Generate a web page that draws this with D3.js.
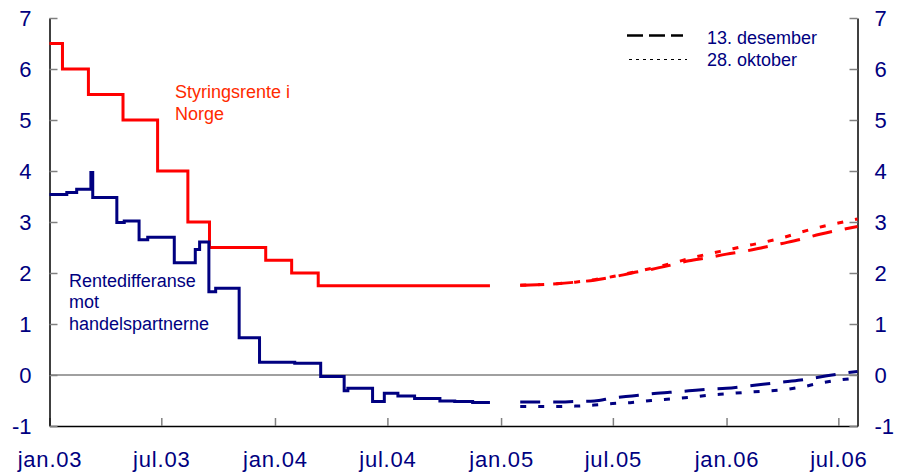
<!DOCTYPE html>
<html>
<head>
<meta charset="utf-8">
<script src="https://cdn.jsdelivr.net/npm/d3@7"></script>
<style>
  body { margin: 0; background: #fff; }
  svg { display: block; font-family: Arial, "Liberation Sans", sans-serif; }
  .axis text { fill: #000080; font-size: 22px; }
  .axis .domain { stroke: #000; stroke-width: 1.5; }
  .axis .tick line { stroke: #808080; stroke-width: 1.5; }
</style>
</head>
<body>
<svg></svg>
<script>
// styringsrente (step series)
const policyDates = ['2003-01-01','2003-01-22','2003-03-05','2003-04-30','2003-06-25','2003-08-13',
  '2003-09-17','2003-12-17','2004-01-28','2004-03-11','2004-12-14'];
const policyRate = [6.5, 6.0, 5.5, 5.0, 4.0, 3.0, 2.5, 2.25, 2.0, 1.75, 1.75];

// rentedifferanse mot handelspartnerne (step series)
const spreadDates = ['2003-01-01','2003-01-29','2003-02-14','2003-03-09','2003-03-12','2003-04-20',
  '2003-05-02','2003-05-26','2003-06-09','2003-07-22','2003-08-25','2003-09-01','2003-09-16',
  '2003-09-27','2003-11-04','2003-12-07','2004-02-02','2004-03-15','2004-04-22','2004-04-28',
  '2004-06-07','2004-06-26','2004-07-18','2004-08-14','2004-09-24','2004-10-18','2004-11-16','2004-12-14'];
const spreadValues = [3.54, 3.58, 3.64, 3.97, 3.48, 2.99, 3.02, 2.65, 2.70, 2.20, 2.46, 2.61, 1.63,
  1.70, 0.73, 0.25, 0.23, -0.03, -0.31, -0.26, -0.52, -0.36, -0.41, -0.46, -0.51, -0.52, -0.54, -0.54];

// forward paths
const fwdMonths = ['2005-02-01','2005-03-01','2005-04-01','2005-05-01','2005-06-01','2005-07-01',
  '2005-08-01','2005-09-01','2005-10-01','2005-11-01','2005-12-01','2006-01-01','2006-02-01',
  '2006-03-01','2006-04-01','2006-05-01','2006-06-01','2006-07-01','2006-08-01'];
const policyDec = [1.76, 1.77, 1.79, 1.82, 1.86, 1.92, 2.00, 2.07, 2.15, 2.24, 2.30, 2.37, 2.43,
  2.50, 2.58, 2.66, 2.76, 2.84, 2.91];
const policyOct = [1.76, 1.77, 1.79, 1.82, 1.87, 1.93, 2.01, 2.09, 2.18, 2.28, 2.37, 2.45, 2.53,
  2.60, 2.69, 2.80, 2.90, 2.98, 3.06];
const spreadDec = [-0.53, -0.53, -0.53, -0.52, -0.51, -0.45, -0.41, -0.37, -0.34, -0.31, -0.28,
  -0.26, -0.22, -0.18, -0.14, -0.10, -0.04, 0.02, 0.07];
const spreadOct = [-0.62, -0.62, -0.62, -0.61, -0.59, -0.56, -0.54, -0.50, -0.47, -0.44, -0.40,
  -0.37, -0.34, -0.32, -0.29, -0.24, -0.16, -0.10, -0.06];

const xTickDates = ['2003-01-01','2003-07-01','2004-01-01','2004-07-01','2005-01-01','2005-07-01',
  '2006-01-01','2006-07-01'];
const xTickLabels = ['jan.03','jul.03','jan.04','jul.04','jan.05','jul.05','jan.06','jul.06'];
const yTicks = [-1, 0, 1, 2, 3, 4, 5, 6, 7];

const width = 897;
const height = 473;
const parse = d3.timeParse('%Y-%m-%d');
const zip = (dates, vals) => dates.map((d, i) => ({date: parse(d), value: vals[i]}));

const svg = d3.select('svg')
    .attr('width', width)
    .attr('height', height);

const x = d3.scaleTime()
    .domain([parse('2003-01-01'), parse('2006-08-01')])
    .range([49.5, 857.5]);
const y = d3.scaleLinear()
    .domain([-1, 7])
    .range([426, 18]);

// zero line
svg.append('line')
    .attr('x1', x.range()[0]).attr('x2', x.range()[1])
    .attr('y1', y(0)).attr('y2', y(0))
    .attr('stroke', '#808080')
    .attr('stroke-width', 1.5);

// axes
const tickLabel = d => xTickLabels[xTickDates.indexOf(d3.timeFormat('%Y-%m-%d')(d))];
const yLabel = d => String(d); // plain hyphen, like the original

svg.append('g')
    .attr('class', 'axis')
    .attr('transform', `translate(0,${y(-1)})`)
    .call(d3.axisBottom(x)
        .tickValues(xTickDates.map(parse))
        .tickFormat(tickLabel)
        .tickSizeInner(-8)
        .tickSizeOuter(0)
        .tickPadding(25))
    .selectAll('text').attr('letter-spacing', '0.8px');

svg.append('g')
    .attr('class', 'axis')
    .attr('transform', `translate(${x.range()[0]},0)`)
    .call(d3.axisLeft(y).tickValues(yTicks).tickFormat(yLabel)
        .tickSizeInner(-8).tickSizeOuter(0).tickPadding(18));

svg.append('g')
    .attr('class', 'axis')
    .attr('transform', `translate(${x.range()[1]},0)`)
    .call(d3.axisRight(y).tickValues(yTicks).tickFormat(yLabel)
        .tickSizeInner(-8).tickSizeOuter(0).tickPadding(17));

// lines
const stepLine = d3.line().x(d => x(d.date)).y(d => y(d.value)).curve(d3.curveStepAfter);
const smoothLine = d3.line().x(d => x(d.date)).y(d => y(d.value)).curve(d3.curveMonotoneX);

const series = [
    {data: zip(policyDates, policyRate), color: '#ff0000', gen: stepLine, dash: null},
    {data: zip(spreadDates, spreadValues), color: '#000080', gen: stepLine, dash: null},
    {data: zip(fwdMonths, policyOct), color: '#ff0000', gen: smoothLine, dash: '6,12'},
    {data: zip(fwdMonths, policyDec), color: '#ff0000', gen: smoothLine, dash: '20,13'},
    {data: zip(fwdMonths, spreadOct), color: '#000080', gen: smoothLine, dash: '6,12'},
    {data: zip(fwdMonths, spreadDec), color: '#000080', gen: smoothLine, dash: '20,13'}
];

svg.append('g').selectAll('path')
    .data(series)
    .enter().append('path')
        .attr('d', s => s.gen(s.data))
        .attr('fill', 'none')
        .attr('stroke', s => s.color)
        .attr('stroke-width', 3)
        .attr('stroke-dasharray', s => s.dash);

// labels
const labels = svg.append('g').attr('font-size', 18);
labels.append('text').attr('x', 175).attr('y', 98).attr('fill', '#ff2a00').text('Styringsrente i');
labels.append('text').attr('x', 175).attr('y', 120).attr('fill', '#ff2a00').text('Norge');
labels.append('text').attr('x', 69).attr('y', 287).attr('fill', '#000080').text('Rentedifferanse');
labels.append('text').attr('x', 69).attr('y', 308).attr('fill', '#000080').text('mot');
labels.append('text').attr('x', 69).attr('y', 330).attr('fill', '#000080').text('handelspartnerne');

// legend
const legend = svg.append('g');
legend.append('line')
    .attr('x1', 627).attr('x2', 683).attr('y1', 35.5).attr('y2', 35.5)
    .attr('stroke', '#000').attr('stroke-width', 2.5).attr('stroke-dasharray', '16,6');
legend.append('line')
    .attr('x1', 629).attr('x2', 687).attr('y1', 59.5).attr('y2', 59.5)
    .attr('stroke', '#000').attr('stroke-width', 1).attr('stroke-dasharray', '3,4');
legend.append('text').attr('x', 707).attr('y', 44).attr('font-size', 18).attr('fill', '#000080').text('13. desember');
legend.append('text').attr('x', 707).attr('y', 66).attr('font-size', 18).attr('fill', '#000080').text('28. oktober');
</script>
</body>
</html>
